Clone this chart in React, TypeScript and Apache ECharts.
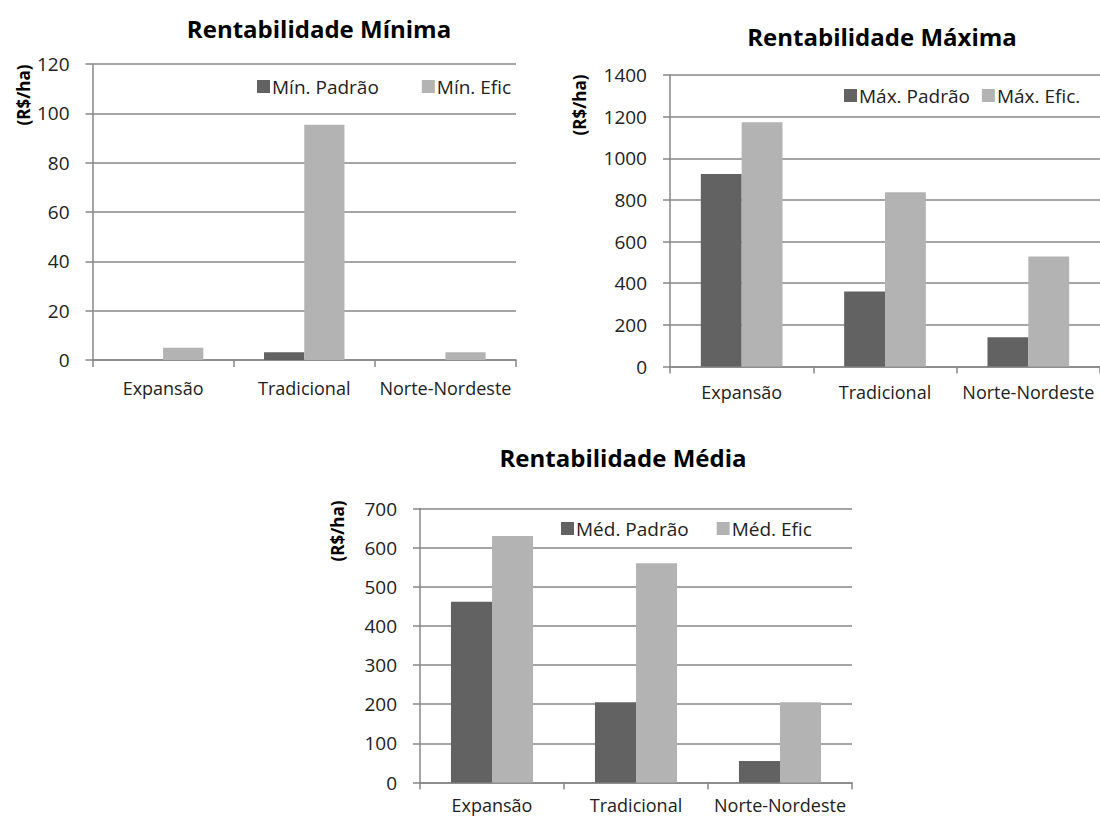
import React, { useEffect, useRef } from "react";
import * as echarts from "echarts";

const categories = ["Expansão", "Tradicional", "Norte-Nordeste"];

const minPadrao = [0, 3.1, 0];
const minEfic = [5.0, 95.4, 3.1];
const maxPadrao = [925, 360, 141];
const maxEfic = [1173, 837, 528];
const medPadrao = [462, 205, 55];
const medEfic = [630, 560, 205];

const titles = ["Rentabilidade Mínima", "Rentabilidade Máxima", "Rentabilidade Média"];
const legendNames = [
  ["Mín. Padrão", "Mín. Efic"],
  ["Máx. Padrão", "Máx. Efic."],
  ["Méd. Padrão", "Méd. Efic"],
];
const yMax = [120, 1400, 700];
const yInterval = [20, 200, 100];
const yName = "(R$/ha)";

const FONT = "'Open Sans', 'Liberation Sans', Arial, sans-serif";
const DARK = "#626262";
const LIGHT = "#b3b3b3";
const AXIS = "#878787";

export default function App() {
  const ref = useRef<HTMLDivElement>(null);

  useEffect(() => {
    if (!ref.current) return;
    const chart = echarts.init(ref.current, undefined, { renderer: "svg" });

    const grids = [
      { left: 92.5, top: 64, width: 423.5, height: 296 },
      { left: 670, top: 75, width: 435, height: 291.5 },
      { left: 420, top: 508.5, width: 432, height: 274 },
    ];
    const titlePos = [
      { x: 314, y: 11 },
      { x: 877, y: 19 },
      { x: 618, y: 440 },
    ];
    const legendPos = [
      { left: 257, top: 77, gap: 43 },
      { left: 844, top: 86, gap: 12 },
      { left: 561, top: 519, gap: 28 },
    ];
    const xLabelMargin = [19, 16, 13];
    const yNamePos = [
      { x: 23, y: 95 },
      { x: 579, y: 105 },
      { x: 337, y: 531 },
    ];
    const seriesData = [
      [minPadrao, minEfic],
      [maxPadrao, maxEfic],
      [medPadrao, medEfic],
    ];

    const series: any[] = [];
    seriesData.forEach((pair, gi) => {
      pair.forEach((vals, si) => {
        series.push({
          type: "bar",
          name: legendNames[gi][si],
          xAxisIndex: gi,
          yAxisIndex: gi,
          data: vals,
          barGap: "0%",
          barCategoryGap: "43%",
          itemStyle: { color: si === 0 ? DARK : LIGHT },
        });
      });
    });

    chart.setOption({
      animation: false,
      backgroundColor: "#ffffff",
      title: titles.map((t, i) => ({
        text: t,
        left: titlePos[i].x,
        top: titlePos[i].y,
        textAlign: "center",
        textStyle: { fontFamily: FONT, fontSize: 24, fontWeight: "bold", color: "#000" },
      })),
      legend: legendNames.map((names, i) => ({
        data: names,
        left: legendPos[i].left,
        top: legendPos[i].top,
        itemGap: legendPos[i].gap,
        itemWidth: 13,
        itemHeight: 13,
        icon: "rect",
        padding: 0,
        selectedMode: false,
        textStyle: { fontFamily: FONT, fontSize: 19, color: "#222", padding: [0, 0, 0, -3] },
      })),
      grid: grids.map((g) => ({ ...g })),
      xAxis: grids.map((_, i) => ({
        type: "category",
        gridIndex: i,
        data: categories,
        axisLine: { show: true, lineStyle: { color: AXIS, width: 1.5 } },
        axisTick: { show: true, length: 7, lineStyle: { color: AXIS, width: 1.5 } },
        axisLabel: { fontFamily: FONT, fontSize: 18, color: "#222", margin: xLabelMargin[i], interval: 0 },
      })),
      yAxis: grids.map((_, i) => ({
        type: "value",
        gridIndex: i,
        min: 0,
        max: yMax[i],
        interval: yInterval[i],
        axisLine: { show: true, lineStyle: { color: AXIS, width: 1.5 } },
        axisTick: { show: true, length: 7, lineStyle: { color: AXIS, width: 1.5 } },
        splitLine: { show: true, lineStyle: { color: AXIS, width: 1.5 } },
        axisLabel: {
          fontFamily: FONT,
          fontSize: 19,
          color: "#222",
          margin: 23,
          formatter: (v: number) => String(v),
        },
      })),
      graphic: yNamePos.map((p) => ({
        type: "text",
        x: p.x,
        y: p.y,
        rotation: Math.PI / 2,
        style: {
          text: yName,
          fontFamily: FONT,
          fontSize: 17,
          fontWeight: "bold",
          fill: "#000",
          align: "center",
          verticalAlign: "middle",
        },
      })),
      series,
    });

    return () => chart.dispose();
  }, []);

  return (
    <div
      ref={ref}
      style={{ position: "absolute", left: 0, top: 0, width: 1100, height: 818 }}
    />
  );
}
